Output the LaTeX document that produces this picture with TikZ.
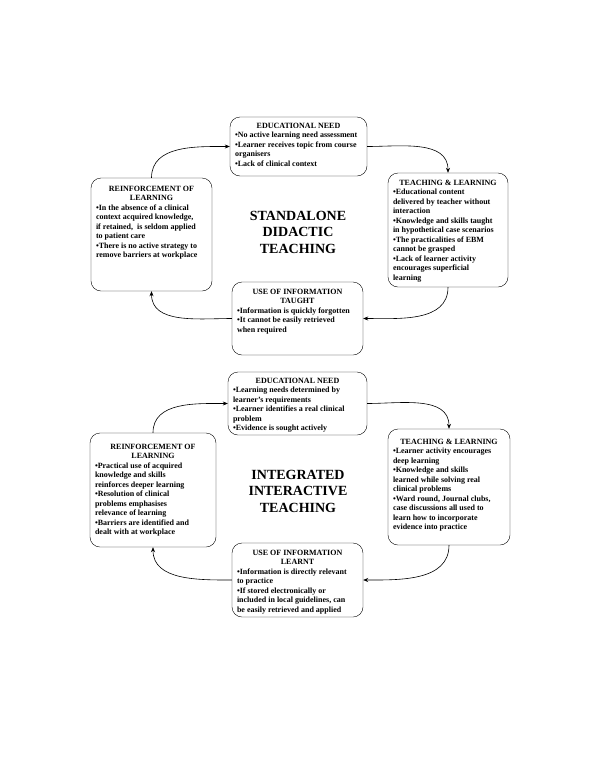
\documentclass[tikz,border=0pt]{standalone}
\usepackage{fontspec}
\setmainfont{Liberation Serif}
\usetikzlibrary{arrows.meta, positioning}
\newcommand{\stagetext}[5]{\parbox[c][#2][t]{#3}{\vspace*{#1}\centering #4\par\raggedright #5\par}}

\begin{document}
\begin{tikzpicture}[
    x = 1pt, y = 1pt,
    stage/.style = {rectangle, draw, rounded corners=10pt, inner sep=5pt,
                    font=\fontsize{8}{9.5}\selectfont\bfseries},
    heading/.style = {align=center, font=\fontsize{14}{16.5}\selectfont\bfseries},
    pil/.style = {black, -{Stealth[length=5pt,width=4pt]}, semithick}
    ]

  \useasboundingbox (0,0) rectangle (600,-777);

  % standalone didactic teaching
  \node[stage] (need1) at (298.5,-146.5) {\stagetext{1pt}{49pt}{127pt}{EDUCATIONAL NEED}{%
    •No active learning need assessment\\
    •Learner receives topic from course\\
    organisers\\
    •Lack of clinical context}};
  \node[stage] (teach1) at (448,-230) {\stagetext{2pt}{104pt}{110pt}{TEACHING \& LEARNING}{%
    •Educational content\\
    delivered by teacher without\\
    interaction\\
    •Knowledge and skills taught\\
    in hypothetical case scenarios\\
    •The practicalities of EBM\\
    cannot be grasped\\
    •Lack of learner activity\\
    encourages superficial\\
    learning}};
  \node[stage] (use1) at (297.5,-318.5) {\stagetext{2pt}{63pt}{121pt}{USE OF INFORMATION\\TAUGHT}{%
    •Information is quickly forgotten\\
    •It cannot be easily retrieved\\
    when required}};
  \node[stage] (reinf1) at (151.5,-234.5) {\stagetext{3pt}{103pt}{111pt}{REINFORCEMENT OF\\LEARNING}{%
    •In the absence of a clinical\\
    context acquired knowledge,\\
    if retained,~ is seldom applied\\
    to patient care\\
    •There is no active strategy to\\
    remove barriers at workplace}};
  \node[heading] (title1) at (298,-232) {STANDALONE\\DIDACTIC\\TEACHING};

  % integrated interactive teaching
  \node[stage] (need2) at (297.5,-403.5) {\stagetext{1pt}{53pt}{129pt}{EDUCATIONAL NEED}{%
    •Learning needs determined by\\
    learner’s requirements\\
    •Learner identifies a real clinical\\
    problem\\
    •Evidence is sought actively}};
  \node[stage] (teach2) at (449,-487) {\stagetext{5pt}{106pt}{112pt}{TEACHING \& LEARNING}{%
    •Learner activity encourages\\
    deep learning\\
    •Knowledge and skills\\
    learned while solving real\\
    clinical problems\\
    •Ward round, Journal clubs,\\
    case discussions all used to\\
    learn how to incorporate\\
    evidence into practice}};
  \node[stage] (use2) at (297.5,-580) {\stagetext{2pt}{64pt}{121pt}{USE OF INFORMATION\\LEARNT}{%
    •Information is directly relevant\\
    to practice\\
    •If stored electronically or\\
    included in local guidelines, can\\
    be easily retrieved and applied}};
  \node[stage] (reinf2) at (153,-490) {\stagetext{6pt}{104pt}{116pt}{REINFORCEMENT OF\\LEARNING}{%
    •Practical use of acquired\\
    knowledge and skills\\
    reinforces deeper learning\\
    •Resolution of clinical\\
    problems emphasises\\
    relevance of learning\\
    •Barriers are identified and\\
    dealt with at workplace}};
  \node[heading] (title2) at (298,-491) {INTEGRATED\\INTERACTIVE\\TEACHING};

  \draw[pil]
  (reinf1) edge[out=90, in=180] (need1)
  (need1) edge[out=0, in=90] (teach1)
  (teach1) edge[out=270, in=0] (use1)
  (use1) edge[out=180, in=270] (reinf1)

  (reinf2) edge[out=90, in=180] (need2)
  (need2) edge[out=0, in=90] (teach2)
  (teach2) edge[out=270, in=0] (use2)
  (use2) edge[out=180, in=270] (reinf2) ;

\end{tikzpicture}
\end{document}
